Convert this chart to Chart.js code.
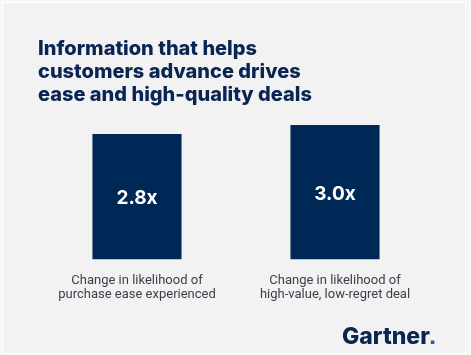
<!DOCTYPE html>
<html>
<head>
<meta charset="utf-8">
<script src="https://cdn.jsdelivr.net/npm/chart.js@4/dist/chart.umd.min.js"></script>
<style>
  html, body { margin: 0; padding: 0; background: #f7f7f7; }
  #frame { position: absolute; left: 2px; top: 2px; width: 462px; height: 350px; background: #f2f2f2; border: 1px solid #ffffff; }
  #wrap { position: absolute; left: 0; top: 0; width: 471px; height: 355px; }
</style>
</head>
<body>
<div id="frame"></div>
<div id="wrap"><canvas id="c" width="471" height="355"></canvas></div>
<script>
const titleLines = ["Information that helps", "customers advance drives", "ease and high-quality deals"];
const categories = [["Change in likelihood of", "purchase ease experienced"], ["Change in likelihood of", "high-value, low-regret deal"]];
const values = [2.8, 3.0];
const valueLabels = ["2.8x", "3.0x"];
const brand = "Gartner";

const barLabels = {
  id: 'barLabels',
  afterDatasetsDraw(chart) {
    const ctx = chart.ctx;
    const meta = chart.getDatasetMeta(0);
    ctx.save();
    ctx.fillStyle = '#ffffff';
    ctx.font = '700 19px Inter, "Liberation Sans", sans-serif';
    ctx.textAlign = 'center';
    ctx.textBaseline = 'middle';
    meta.data.forEach((bar, i) => {
      const cy = (bar.y + bar.base) / 2 + 2;
      ctx.fillText(valueLabels[i], bar.x, cy);
    });
    ctx.restore();
  }
};

const logo = {
  id: 'logo',
  afterDraw(chart) {
    const ctx = chart.ctx;
    ctx.save();
    ctx.font = '800 23px Inter, "Liberation Sans", sans-serif';
    ctx.textAlign = 'left';
    ctx.textBaseline = 'alphabetic';
    ctx.fillStyle = '#0b2553';
    const x = 342, y = 344;
    ctx.fillText(brand, x, y);
    const w = ctx.measureText(brand).width;
    ctx.fillStyle = '#2a5aa8';
    ctx.fillRect(x + w + 1, y - 3.5, 3.5, 3.5);
    ctx.restore();
  }
};

new Chart(document.getElementById('c'), {
  type: 'bar',
  data: {
    labels: categories,
    datasets: [{
      data: values,
      backgroundColor: '#002856',
      barPercentage: 0.45,
      categoryPercentage: 1.0
    }]
  },
  options: {
    responsive: false,
    animation: false,
    layout: { padding: { left: 38, right: 37, top: 37, bottom: 47 } },
    plugins: {
      legend: { display: false },
      tooltip: { enabled: false },
      title: {
        display: true,
        text: titleLines,
        align: 'start',
        color: '#0b2553',
        font: { family: 'Inter, "Liberation Sans", sans-serif', size: 20, weight: '800', lineHeight: 1.15 },
        padding: { top: 0, bottom: 10 }
      }
    },
    scales: {
      x: {
        grid: { display: false },
        border: { display: false },
        ticks: {
          color: '#3b3f4c',
          font: { family: 'Roboto, "Liberation Sans", sans-serif', size: 13, lineHeight: 1.1 },
          padding: 6,
          maxRotation: 0
        }
      },
      y: {
        display: false,
        min: 0,
        max: 3.2
      }
    }
  },
  plugins: [barLabels, logo]
});
</script>
</body>
</html>
